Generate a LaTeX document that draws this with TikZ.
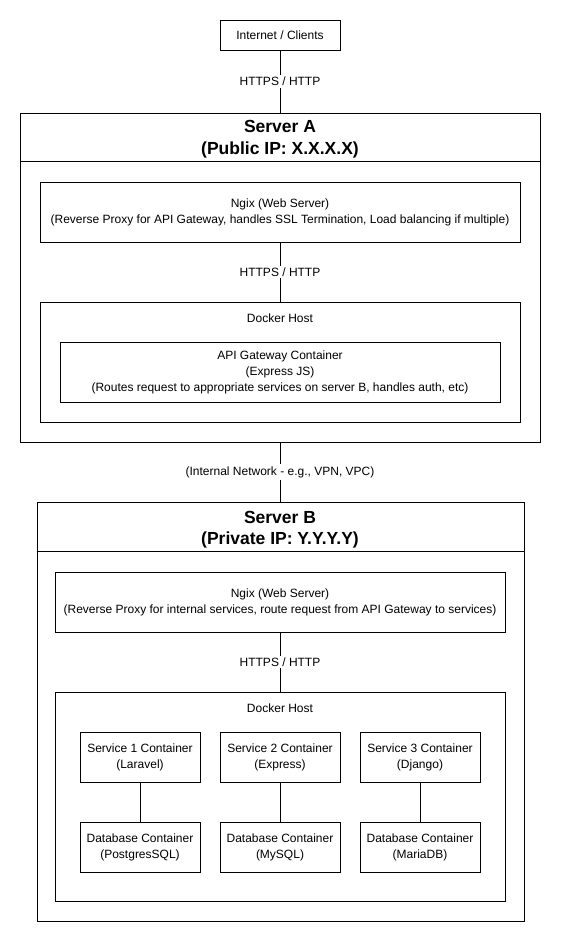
\documentclass[tikz,border=0pt]{standalone}
\usepackage{fontspec}
\setmainfont{Liberation Sans}
\begin{document}
\begin{tikzpicture}[x=1pt,y=-1pt,line width=1pt,
  box/.style={draw=black,rectangle,inner sep=0pt,align=center,font=\fontsize{12}{16}\selectfont},
  lbl/.style={fill=white,inner sep=2pt,font=\fontsize{12}{16}\selectfont},
  title/.style={align=center,inner sep=0pt,font=\fontsize{17.5}{21.5}\selectfont\bfseries},
  plain/.style={inner sep=0pt,font=\fontsize{12}{16}\selectfont}]
\useasboundingbox (0,0) rectangle (561,943);
\fill[white] (0,0) rectangle (561,943);

% Internet
\node[box,minimum width=120pt,minimum height=30pt] (inet) at (280,35) {Internet / Clients};

% Server A
\node[box,minimum width=520pt,minimum height=329pt] (sA) at (280,277.5) {};
\node[title] (sAt) at (280,139) {Server A\\(Public IP: X.X.X.X)};
\coordinate (sAsep) at (280,161);
\draw (sA.west |- sAsep) -- (sA.east |- sAsep);

\node[box,minimum width=480pt,minimum height=60pt] (ngA) at (280,212)
  {Ngix (Web Server)\\(Reverse Proxy for API Gateway, handles SSL Termination, Load balancing if multiple)};
\node[box,minimum width=480pt,minimum height=120pt] (dA) at (280,362) {};
\node[plain] (dAt) at (280,318) {Docker Host};
\node[box,minimum width=440pt,minimum height=60pt] (api) at (280,372)
  {API Gateway Container\\(Express JS)\\(Routes request to appropriate services on server B, handles auth, etc)};

% Server B
\node[box,minimum width=487pt,minimum height=419pt] (sB) at (280.5,711.5) {};
\node[title] (sBt) at (280,529.5) {Server B\\(Private IP: Y.Y.Y.Y)};
\coordinate (sBsep) at (280,551);
\draw (sB.west |- sBsep) -- (sB.east |- sBsep);

\node[box,minimum width=450pt,minimum height=60pt] (ngB) at (280,602)
  {Ngix (Web Server)\\(Reverse Proxy for internal services, route request from API Gateway to services)};
\node[box,minimum width=450pt,minimum height=209pt] (dB) at (280,796.5) {};
\node[plain] (dBt) at (280,708) {Docker Host};

\node[box,minimum width=120pt,minimum height=50pt] (s1) at (140,757) {Service 1 Container\\(Laravel)};
\node[box,minimum width=120pt,minimum height=50pt] (s2) at (280,757) {Service 2 Container\\(Express)};
\node[box,minimum width=120pt,minimum height=50pt] (s3) at (420,757) {Service 3 Container\\(Django)};
\node[box,minimum width=120pt,minimum height=50pt] (db1) at (140,847) {Database Container\\(PostgresSQL)};
\node[box,minimum width=120pt,minimum height=50pt] (db2) at (280,847) {Database Container\\(MySQL)};
\node[box,minimum width=120pt,minimum height=50pt] (db3) at (420,847) {Database Container\\(MariaDB)};

% connectors
\draw (inet.south) -- node[lbl] {HTTPS / HTTP} (inet.south |- sA.north);
\draw (ngA.south) -- node[lbl] {HTTPS / HTTP} (dA.north);
\draw (sA.south) -- node[lbl] {(Internal Network - e.g., VPN, VPC)} (sA.south |- sB.north);
\draw (ngB.south) -- node[lbl] {HTTPS / HTTP} (dB.north);
\draw (s1) -- (db1);
\draw (s2) -- (db2);
\draw (s3) -- (db3);
\end{tikzpicture}
\end{document}
